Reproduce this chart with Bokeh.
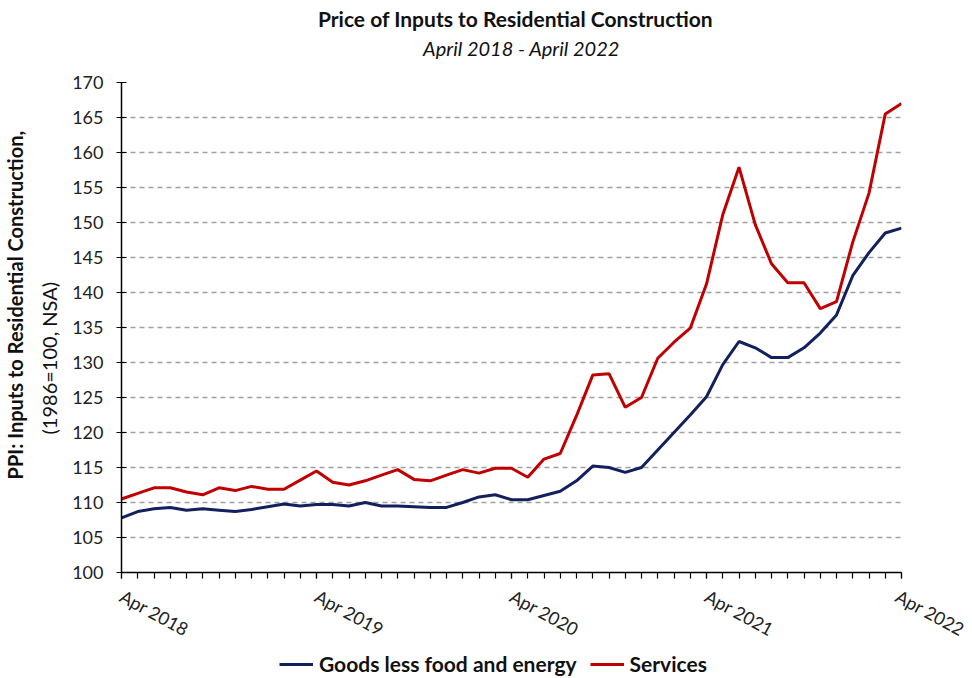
import math
import pandas as pd
from bokeh.plotting import figure
from bokeh.layouts import column
from bokeh.models import Range1d, FixedTicker, Legend, LegendItem, ColumnDataSource, Title, Label
from bokeh.embed import file_html
from bokeh.resources import INLINE

# ---------------- data ----------------
months = pd.date_range("2018-04-01", "2022-04-01", freq="MS").strftime("%b %Y").tolist()

goods = [107.8, 108.7, 109.1, 109.3, 108.9, 109.1, 108.9, 108.7, 109.0, 109.4,
         109.8, 109.5, 109.7, 109.7, 109.5, 110.0, 109.5, 109.5, 109.4, 109.3,
         109.3, 110.0, 110.8, 111.1, 110.4, 110.4, 111.0, 111.6, 113.1, 115.2,
         115.0, 114.3, 115.0, 117.5, 120.0, 122.5, 125.1, 129.7, 133.0, 132.1,
         130.7, 130.7, 132.1, 134.2, 136.8, 142.4, 145.7, 148.5, 149.2]

services = [110.5, 111.3, 112.1, 112.1, 111.5, 111.1, 112.1, 111.7, 112.3, 111.9,
            111.9, 113.2, 114.5, 112.9, 112.5, 113.1, 113.9, 114.7, 113.3, 113.1,
            113.9, 114.7, 114.2, 114.9, 114.9, 113.6, 116.2, 117.0, 122.4, 128.2,
            128.4, 123.6, 125.0, 130.6, 132.9, 134.9, 141.2, 151.1, 157.9, 149.7,
            144.1, 141.4, 141.4, 137.7, 138.7, 147.2, 154.2, 165.5, 167.0]

x_tick_labels = ["Apr 2018", "Apr 2019", "Apr 2020", "Apr 2021", "Apr 2022"]
y_ticks = list(range(100, 175, 5))

series_names = ["Goods less food and energy", "Services"]
series_colors = ["#13205e", "#c00000"]

title_text = "Price of Inputs to Residential Construction"
subtitle_text = "April 2018 - April 2022"
ylabel_1 = "PPI: Inputs to Residential Construction,"
ylabel_2 = "(1986=100, NSA)"

FONT = "Lato"
W = 968
TH, MH, LH = 66, 586, 24   # title strip, main plot, legend strip heights

def strip(h):
    s = figure(width=W, height=h, output_backend="svg", toolbar_location=None, title=None,
               x_axis_type=None, y_axis_type=None, x_range=Range1d(0, 1),
               y_range=Range1d(0, 1), min_border=0)
    s.outline_line_color = None
    s.xgrid.visible = False
    s.ygrid.visible = False
    return s

# ---------------- title strip ----------------
ts = strip(TH)
ts.add_layout(Label(x=394, y=48, x_units="screen", y_units="screen", text=title_text,
                    text_font=FONT, text_font_style="bold", text_font_size="21px",
                    text_align="center", text_baseline="middle", text_color="#111111"))
ts.add_layout(Label(x=400, y=19, x_units="screen", y_units="screen", text=subtitle_text,
                    text_font=FONT, text_font_style="italic", text_font_size="20px",
                    text_align="center", text_baseline="middle", text_color="#111111"))

# ---------------- main figure ----------------
idx = list(range(len(months)))
src = ColumnDataSource(dict(x=idx, month=months, goods=goods, services=services))

p = figure(width=W, height=MH, output_backend="svg", toolbar_location=None, title=None,
           x_range=Range1d(0, len(months) - 1), y_range=Range1d(100, 170),
           min_border_left=120, min_border_right=67, min_border_top=16,
           min_border_bottom=79)
p.outline_line_color = None
p.background_fill_color = "white"
p.border_fill_color = "white"

r1 = p.line("x", "goods", source=src, line_color=series_colors[0], line_width=3)
r2 = p.line("x", "services", source=src, line_color=series_colors[1], line_width=3)

# x axis
tick_pos = [months.index(t) for t in x_tick_labels]
p.xaxis.ticker = FixedTicker(ticks=tick_pos, minor_ticks=idx)
p.xaxis.major_label_overrides = {pos: lab for pos, lab in zip(tick_pos, x_tick_labels)}
p.xaxis.major_label_orientation = -0.5
p.xaxis.major_tick_in = 0
p.xaxis.major_tick_out = 6
p.xaxis.minor_tick_in = 0
p.xaxis.minor_tick_out = 6
p.xaxis.major_label_standoff = 16
for ax in (p.xaxis, p.yaxis):
    ax.axis_line_color = "black"
    ax.axis_line_width = 1.5
    ax.major_tick_line_color = "black"
    ax.major_tick_line_width = 1.2
    ax.minor_tick_line_color = "black"
    ax.minor_tick_line_width = 1.2
    ax.major_label_text_font = FONT
    ax.major_label_text_font_size = "18px"
    ax.major_label_text_color = "#222222"

# y axis
p.yaxis.ticker = FixedTicker(ticks=y_ticks)
p.yaxis.major_tick_in = 5
p.yaxis.major_tick_out = 5
p.yaxis.minor_tick_in = 0
p.yaxis.minor_tick_out = 0
p.yaxis.major_label_standoff = 13

# grid
p.xgrid.visible = False
p.ygrid.ticker = FixedTicker(ticks=y_ticks)
p.ygrid.grid_line_color = "#a0a0a0"
p.ygrid.grid_line_width = 1.6
p.ygrid.grid_line_dash = "5 4"

# y-axis label as two vertical titles: second line nearest the axis
p.add_layout(Title(text=ylabel_2, align="left", offset=138, standoff=17,
                   text_font=FONT, text_font_style="normal", text_font_size="20px",
                   text_line_height=0.8, text_color="#111111"), "left")
p.add_layout(Title(text=ylabel_1, align="left", offset=93, standoff=0,
                   text_font=FONT, text_font_style="bold", text_font_size="20px",
                   text_line_height=0.8, text_color="#111111"), "left")

# ---------------- legend strip ----------------
lg = strip(LH)
# proxies for the legend (data lies outside this strip's ranges)
lr1 = lg.line("x", "goods", source=src, line_color=series_colors[0], line_width=3)
lr2 = lg.line("x", "services", source=src, line_color=series_colors[1], line_width=3)
legend = Legend(items=[LegendItem(label=series_names[0], renderers=[lr1]),
                       LegendItem(label=series_names[1], renderers=[lr2])],
                orientation="horizontal", location=(158, 0),
                margin=0, padding=0, spacing=13, glyph_width=34, label_standoff=6,
                border_line_alpha=0, background_fill_alpha=0,
                label_text_font=FONT, label_text_font_style="bold",
                label_text_font_size="21px", label_text_color="#111111")
lg.add_layout(legend)

open("out.html", "w").write(file_html(column(ts, p, lg, spacing=0), INLINE))
